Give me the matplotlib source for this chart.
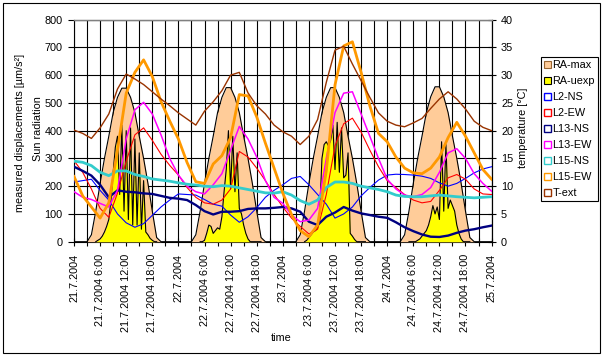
import numpy as np
import matplotlib.pyplot as plt
from matplotlib.patches import Patch, Rectangle

plt.rcParams['font.family'] = ['Liberation Sans', 'DejaVu Sans']

# hours since 21.7.2004 0:00
hours_2h = list(range(0, 97, 2))
hours_1h = list(range(0, 97))

tick_labels = ['21.7.2004', '21.7.2004 6:00', '21.7.2004 12:00', '21.7.2004 18:00',
               '22.7.2004', '22.7.2004 6:00', '22.7.2004 12:00', '22.7.2004 18:00',
               '23.7.2004', '23.7.2004 6:00', '23.7.2004 12:00', '23.7.2004 18:00',
               '24.7.2004', '24.7.2004 6:00', '24.7.2004 12:00', '24.7.2004 18:00',
               '25.7.2004']

# max. sun radiation, hourly
ra_max = [0, 0, 0, 0, 25, 110, 210, 300, 380, 465, 520, 553, 553, 520, 465, 380, 300, 210, 110, 15, 0, 0, 0, 0,
          0, 0, 0, 0, 25, 110, 210, 300, 380, 465, 520, 555, 555, 520, 465, 380, 300, 210, 110, 15, 0, 0, 0, 0,
          0, 0, 0, 0, 25, 110, 210, 300, 380, 465, 520, 555, 555, 520, 465, 380, 300, 210, 110, 15, 0, 0, 0, 0,
          0, 0, 0, 0, 25, 110, 210, 300, 380, 465, 522, 558, 558, 522, 465, 380, 300, 210, 110, 15, 0, 0, 0, 0,
          0]

# measured sun radiation, every 30 min from 5:00 to 19:00 of each day
ra_uexp_21 = [0, 5, 10, 20, 35, 55, 80, 150, 250, 340, 380, 170, 420, 110, 400, 80, 410, 60, 370, 60,
              320, 45, 220, 35, 25, 12, 5, 0, 0]
ra_uexp_22 = [0, 0, 5, 30, 60, 55, 30, 40, 50, 45, 90, 180, 260, 400, 190, 380, 180, 320, 120, 100,
              60, 30, 10, 0, 0, 0, 0, 0, 0]
ra_uexp_23 = [0, 5, 15, 25, 35, 40, 50, 110, 300, 350, 360, 345, 365, 420, 260, 430, 250, 410, 230, 240,
              320, 30, 20, 8, 0, 0, 0, 0, 0]
ra_uexp_24 = [0, 0, 0, 0, 5, 10, 20, 30, 40, 60, 90, 130, 100, 125, 80, 360, 110, 350, 120, 150,
              130, 110, 60, 30, 10, 0, 0, 0, 0]

l2_ns = [215, 220, 225, 185, 150, 100, 68, 52, 65, 95, 125, 150,
         172, 170, 168, 152, 135, 128, 96, 70, 90, 122, 160, 185,
         205, 228, 235, 205, 170, 135, 85, 100, 125, 165, 195, 222,
         240, 243, 242, 240, 236, 228, 212, 200, 210, 228, 248, 262,
         270]
l2_ew = [292, 250, 190, 120, 88, 175, 290, 385, 410, 365, 315, 275,
         240, 195, 160, 140, 135, 150, 190, 325, 305, 265, 220, 170,
         125, 85, 55, 28, 45, 170, 345, 425, 445, 395, 330, 270,
         220, 195, 170, 150, 140, 145, 185, 230, 242, 225, 190, 172,
         170]
l13_ns = [270, 255, 238, 205, 160, 185, 180, 178, 174, 172, 165, 158,
          155, 150, 132, 110, 98, 108, 108, 110, 118, 120, 120, 122,
          125, 120, 108, 72, 60, 90, 105, 125, 112, 102, 96, 90,
          86, 70, 52, 38, 26, 18, 17, 22, 32, 40, 45, 52,
          58]
l13_ew = [180, 160, 152, 138, 125, 185, 370, 475, 502, 460, 385, 300,
          240, 200, 180, 172, 205, 245, 330, 415, 370, 305, 220, 160,
          138, 96, 72, 78, 120, 300, 465, 535, 540, 460, 380, 300,
          225, 190, 168, 162, 170, 195, 250, 320, 335, 300, 245, 210,
          182]
l15_ns = [290, 286, 274, 250, 238, 255, 255, 242, 235, 226, 222, 218,
          212, 207, 204, 200, 198, 202, 200, 194, 188, 182, 176, 175,
          180, 168, 148, 135, 150, 195, 215, 215, 210, 200, 194, 188,
          180, 168, 163, 162, 162, 165, 168, 165, 162, 160, 158, 160,
          162]
l15_ew = [235, 165, 125, 85, 140, 330, 535, 610, 655, 595, 505, 435,
          370, 285, 216, 210, 280, 310, 375, 530, 525, 450, 355, 265,
          175, 98, 40, 18, 60, 255, 565, 705, 720, 610, 490, 390,
          360, 305, 265, 248, 245, 265, 305, 375, 430, 380, 320, 260,
          225]
# outside temperature in deg C (right axis)
t_ext = [20.1, 19.5, 18.6, 20.5, 23.0, 27.5, 30.2, 29.3, 28.3, 27.0, 25.7, 24.5,
         23.2, 22.1, 21.0, 23.5, 25.2, 27.2, 30.0, 30.5, 26.8, 24.5, 23.0, 21.0,
         19.8, 19.0, 17.5, 19.0, 22.0, 28.7, 34.5, 35.2, 32.0, 29.0, 26.0, 23.2,
         21.7, 21.0, 20.7, 21.4, 22.2, 24.0, 25.7, 27.0, 25.7, 23.9, 21.7, 20.6,
         20.0]

fs = 7.8
xt = list(range(0, 97, 3))
yt = list(range(0, 801, 100))

fig = plt.figure(figsize=(6.04, 3.57), dpi=100)
ax = fig.add_axes([74/604, 1 - 241.7/357, (491.6 - 74)/604, (241.7 - 19.6)/357])
ax2 = ax.twinx()
ax.set_xlim(0, 96)
ax.set_ylim(0, 800)
ax2.set_ylim(0, 40)
ax2.set_autoscale_on(False)

# everything is drawn in the top (twin) axes; left-scale series use ax's data transform
left = ax.transData

# grid behind the radiation areas
for x in xt:
    ax2.plot([x, x], [0, 800], color='black', lw=0.8, transform=left, zorder=1)
for y in yt:
    ax2.plot([0, 96], [y, y], color='black', lw=0.8, transform=left, zorder=1)

# radiation areas
ax2.fill_between(hours_1h, ra_max, color='#FFCC99', lw=0, transform=left, zorder=2)
ax2.plot(hours_1h, ra_max, color='black', lw=0.8, transform=left, zorder=2.1)
for day, vals in enumerate([ra_uexp_21, ra_uexp_22, ra_uexp_23, ra_uexp_24]):
    t = 24*day + 5 + 0.5*np.arange(len(vals))
    ax2.fill_between(t, vals, color='#FFFF00', lw=0, transform=left, zorder=2.2)
    ax2.plot(t, vals, color='black', lw=0.8, transform=left, zorder=2.3)

ax2.plot(hours_2h, l2_ns, color='#0000FF', lw=0.8, transform=left, zorder=3)
ax2.plot(hours_2h, l2_ew, color='#FF0000', lw=0.8, transform=left, zorder=3)
ax2.plot(hours_2h, l13_ns, color='#000080', lw=1.7, transform=left, zorder=3)
ax2.plot(hours_2h, l13_ew, color='#FF00FF', lw=1.1, transform=left, zorder=3)
ax2.plot(hours_2h, l15_ns, color='#33CCCC', lw=2.0, transform=left, zorder=3)
ax2.plot(hours_2h, l15_ew, color='#FF9900', lw=2.0, transform=left, zorder=3)
ax2.plot(hours_2h, t_ext, color='#993300', lw=1.0, zorder=3.5)

ax.set_xlim(0, 96)
ax.set_ylim(0, 800)
ax2.set_ylim(0, 40)

xl = []
for i in range(len(xt)):
    xl.append(tick_labels[i // 2] if i % 2 == 0 else '')
ax.set_xticks(xt, xl)
ax.set_yticks(yt)
ax2.set_yticks(range(0, 41, 5))

ax.tick_params(axis='x', direction='inout', length=6, width=0.8, pad=5.5, labelsize=fs, labelrotation=90)
ax.tick_params(axis='y', direction='out', length=4, width=0.8, pad=4.3, labelsize=fs)
ax2.tick_params(axis='y', direction='inout', length=6, width=0.8, pad=3.8, labelsize=fs)

for s in ['left', 'right', 'bottom']:
    ax.spines[s].set_linewidth(0.8)
ax.spines['top'].set_color('#808080')
for s in ['left', 'bottom']:
    ax2.spines[s].set_visible(False)
ax2.spines['top'].set_color('#808080')
ax2.spines['top'].set_linewidth(1.0)
ax2.spines['right'].set_linewidth(0.8)

fig.text(20/604, 1 - 133/357, 'measured displacements [µm/s²]', rotation=90, ha='center', va='center', fontsize=fs)
fig.text(38/604, 1 - 129/357, 'Sun radiation', rotation=90, ha='center', va='center', fontsize=fs)
fig.text(523/604, 1 - 128/357, 'temperature [°C]', rotation=90, ha='center', va='center', fontsize=fs)
fig.text(281/604, 1 - 338/357, 'time', ha='center', va='center', fontsize=fs)

names = ['RA-max', 'RA-uexp', 'L2-NS', 'L2-EW', 'L13-NS', 'L13-EW', 'L15-NS', 'L15-EW', 'T-ext']
handles = [Patch(fc='#FFCC99', ec='#996633', lw=0.8),
           Patch(fc='#FFFF00', ec='black', lw=0.8)]
for c in ['#0000FF', '#FF0000', '#000080', '#FF00FF', '#33CCCC', '#FF9900', '#993300']:
    handles.append(Patch(fc='white', ec=c, lw=1.0))
leg = fig.legend(handles, names, loc='upper left', bbox_to_anchor=(541/604, 1 - 57/357),
                 fontsize=fs, frameon=True, fancybox=False, edgecolor='black', framealpha=1,
                 borderaxespad=0, handlelength=0.6, handleheight=0.6, handletextpad=0.15,
                 labelspacing=0.55, borderpad=0.3)
leg.get_frame().set_linewidth(0.8)

fig.add_artist(Rectangle((3/604, 4/357), 597/604, 350/357, transform=fig.transFigure,
                         fill=False, ec='black', lw=0.8))

fig.savefig('out.png', dpi=100)
